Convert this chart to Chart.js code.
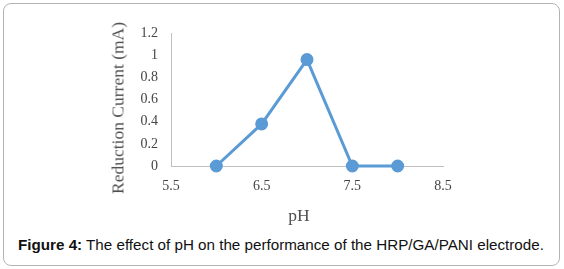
<!DOCTYPE html>
<html>
<head>
<meta charset="utf-8">
<script src="https://cdn.jsdelivr.net/npm/chart.js@4"></script>
<style>
  html, body { margin: 0; padding: 0; background: #fff; }
  #wrap { position: relative; width: 564px; height: 269px; overflow: hidden; }
  #frame { position: absolute; left: 3px; top: 3px; width: 555px; height: 261px; border: 1px solid #b4b4b4; border-radius: 8px; box-sizing: content-box; }
  #cv { position: absolute; left: 0; top: 0; }
  .ytitle { position: absolute; left: 118px; top: 108px; transform: translate(-50%, -50%) rotate(-90deg); font-family: "Liberation Serif", serif; font-size: 17.5px; color: #505050; white-space: nowrap; }
  .xtitle { position: absolute; left: 299px; top: 215px; transform: translate(-50%, -50%); font-family: "Liberation Serif", serif; font-size: 17.5px; color: #505050; white-space: nowrap; }
  .caption { position: absolute; left: 18px; top: 236px; font-family: "Liberation Sans", Arial, sans-serif; font-size: 15.2px; color: #111; white-space: nowrap; }
</style>
</head>
<body>
<div id="wrap">
  <div id="frame"></div>
  <canvas id="cv" width="564" height="230"></canvas>
  <div class="ytitle">Reduction Current (mA)</div>
  <div class="xtitle">pH</div>
  <div class="caption"><b>Figure 4:</b> The effect of pH on the performance of the HRP/GA/PANI electrode.</div>
</div>
<script>
const phValues = [6, 6.5, 7, 7.5, 8];
const currentValues = [0, 0.38, 0.96, 0, 0];
const xTicks = [5.5, 6.5, 7.5, 8.5];
const yTicks = [0, 0.2, 0.4, 0.6, 0.8, 1, 1.2];
const yTickLabels = ["0", "0.2", "0.4", "0.6", "0.8", "1", "1.2"];

const tickFont = { family: "Liberation Serif", size: 14 };
const tickColor = "#444444";

new Chart(document.getElementById("cv"), {
  type: "scatter",
  data: {
    datasets: [{
      data: phValues.map((x, i) => ({ x: x, y: currentValues[i] })),
      showLine: true,
      borderColor: "#5B9BD5",
      backgroundColor: "#5B9BD5",
      borderWidth: 3,
      pointRadius: 5,
      pointHoverRadius: 5,
      clip: false
    }]
  },
  options: {
    responsive: false,
    animation: false,
    events: [],
    layout: { padding: { left: 104, top: 33, right: 121, bottom: 0 } },
    plugins: { legend: { display: false }, tooltip: { enabled: false } },
    scales: {
      x: {
        type: "linear",
        min: 5.5, max: 8.5,
        afterBuildTicks: s => { s.ticks = xTicks.map(v => ({ value: v })); },
        afterFit: s => { s.height = 64; },
        grid: { display: false, drawTicks: false },
        border: { display: true, color: "#bfbfbf", width: 1 },
        ticks: { padding: 12, font: tickFont, color: tickColor, maxRotation: 0, callback: v => String(v) }
      },
      y: {
        type: "linear",
        min: 0, max: 1.2,
        afterBuildTicks: s => { s.ticks = yTicks.map(v => ({ value: v })); },
        afterFit: s => { s.width = 67; },
        grid: { display: false, drawTicks: false },
        border: { display: true, color: "#bfbfbf", width: 1 },
        ticks: { padding: 13, font: tickFont, color: tickColor, callback: (v, i) => yTickLabels[i] }
      }
    }
  }
});
</script>
</body>
</html>
